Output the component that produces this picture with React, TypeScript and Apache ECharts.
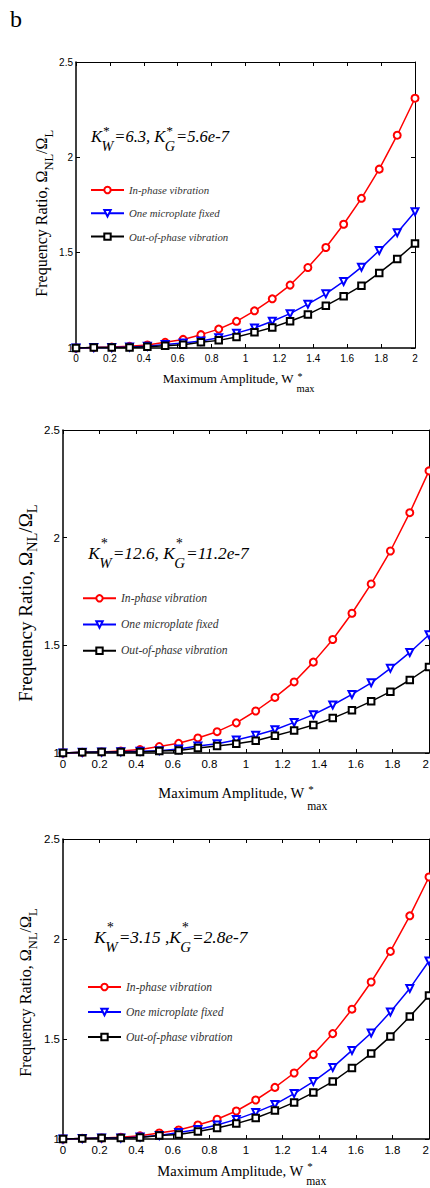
import React, { useEffect, useRef } from 'react';
import * as echarts from 'echarts';

// ---------------- data ----------------
const amplitude = [0, 0.105, 0.211, 0.316, 0.421, 0.526, 0.632, 0.737, 0.842, 0.947, 1.053, 1.158, 1.263, 1.368, 1.474, 1.579, 1.684, 1.789, 1.895, 2];

const seriesNames = ['In-phase vibration', 'One microplate fixed', 'Out-of-phase vibration'];

// in-phase vibration (identical in all three panels)
const inPhase = [1.0, 1.003, 1.005, 1.009, 1.016, 1.03, 1.045, 1.07, 1.099, 1.14, 1.195, 1.258, 1.33, 1.422, 1.527, 1.649, 1.785, 1.938, 2.116, 2.31];

// panel 1: Kw=6.3, Kg=5.6e-7
const fixed1 = [1.0, 1.002, 1.003, 1.005, 1.009, 1.019, 1.026, 1.037, 1.054, 1.078, 1.105, 1.14, 1.18, 1.23, 1.284, 1.349, 1.424, 1.511, 1.605, 1.715];
const outPhase1 = [1.0, 1.002, 1.002, 1.003, 1.007, 1.012, 1.017, 1.03, 1.04, 1.058, 1.082, 1.108, 1.14, 1.176, 1.222, 1.272, 1.326, 1.394, 1.467, 1.548];

// panel 2: Kw=12.6, Kg=11.2e-7
const fixed2 = [1.0, 1.003, 1.005, 1.006, 1.008, 1.011, 1.019, 1.032, 1.043, 1.06, 1.082, 1.108, 1.142, 1.178, 1.223, 1.272, 1.326, 1.393, 1.467, 1.549];
const outPhase2 = [1.0, 1.003, 1.005, 1.005, 1.005, 1.009, 1.012, 1.023, 1.032, 1.043, 1.057, 1.08, 1.104, 1.13, 1.162, 1.199, 1.24, 1.285, 1.339, 1.399];

// panel 3: Kw=3.15, Kg=2.8e-7
const fixed3 = [1.0, 1.003, 1.005, 1.005, 1.01, 1.018, 1.032, 1.047, 1.07, 1.098, 1.133, 1.173, 1.227, 1.287, 1.358, 1.443, 1.53, 1.635, 1.753, 1.89];
const outPhase3 = [1.0, 1.003, 1.005, 1.005, 1.008, 1.017, 1.023, 1.037, 1.055, 1.077, 1.105, 1.142, 1.183, 1.232, 1.287, 1.355, 1.427, 1.513, 1.612, 1.717];

const xTicks = { min: 0, max: 2, interval: 0.2 };
const yTicks = { min: 1, max: 2.5, interval: 0.5 };

const panelLabel = 'b';
const annotationTexts = [
  ['K', '=6.3, K', '=5.6e-7'],
  ['K', '=12.6, K', '=11.2e-7'],
  ['K', '=3.15 ,K', '=2.8e-7'],
];
const xTitleText = 'Maximum Amplitude, W';
const yTitleText = ['Frequency Ratio, Ω', '/Ω'];

const panelData = [
  [inPhase, fixed1, outPhase1],
  [inPhase, fixed2, outPhase2],
  [inPhase, fixed3, outPhase3],
];

// ---------------- styles / layout ----------------
const colors = ['#ff0000', '#0000ff', '#000000'];
const symbols = ['emptyCircle', 'emptyTriangle', 'emptyRect'];
const symbolRot = [0, 180, 0];
const symbolSizes = [7, 7, 6.5];

const panels = [
  {
    grid: { left: 76, top: 62, width: 339, height: 286 },
    tickFs: 10,
    alignMax: false,
    legend: { left: 90, top: 184, gap: 11.3, fs: 10.8 },
    annot: { x: 91, y: 141.7, fs: 16.5, supRise: 7.2, subDrop: 9.5 },
    xTitle: { x: 162.7, y: 383.3, fs: 13, subFs: 10.5, supFs: 10, supRise: 3.5, subDrop: 8.7 },
    yTitle: { x: 47, y: 296.7, fs: 16, subFs: 12.5, subDrop: 6 },
  },
  {
    grid: { left: 63, top: 430, width: 366, height: 323 },
    tickFs: 11.5,
    alignMax: true,
    legend: { left: 82, top: 592.3, gap: 14.2, fs: 11.6 },
    annot: { x: 88.3, y: 559.3, fs: 17.3, supRise: 11, subDrop: 9 },
    xTitle: { x: 158.3, y: 797.7, fs: 14.5, subFs: 11.6, supFs: 11, supRise: 5, subDrop: 12.3 },
    yTitle: { x: 31.7, y: 701.7, fs: 19, subFs: 14.5, subDrop: 5.5 },
  },
  {
    grid: { left: 63, top: 839, width: 366, height: 300 },
    tickFs: 11.5,
    alignMax: true,
    legend: { left: 87, top: 981, gap: 13, fs: 11.6 },
    annot: { x: 94.3, y: 943.3, fs: 17.3, supRise: 11.5, subDrop: 8.4 },
    xTitle: { x: 157.3, y: 1176, fs: 14.5, subFs: 11.6, supFs: 11, supRise: 6, subDrop: 9 },
    yTitle: { x: 31.7, y: 1076.7, fs: 16.2, subFs: 12.5, subDrop: 5.5 },
  },
];

const SERIF = '"Liberation Serif", "Times New Roman", serif';
const SANS = '"Liberation Sans", Arial, sans-serif';
const CENTRAL = 0.3375;

let measureCtx: CanvasRenderingContext2D | null = null;
function textWidth(s: string, fs: number, italic: boolean): number {
  if (!measureCtx) measureCtx = document.createElement('canvas').getContext('2d');
  if (!measureCtx) return s.length * fs * 0.5;
  measureCtx.font = `${italic ? 'italic ' : ''}${fs}px "Liberation Serif"`;
  return measureCtx.measureText(s).width;
}

function txt(s: string, x: number, baseline: number, fs: number, italic: boolean, fill = '#000') {
  return {
    type: 'text',
    x,
    y: baseline - CENTRAL * fs,
    style: {
      text: s,
      fontSize: fs,
      fontFamily: SERIF,
      fontStyle: italic ? 'italic' : 'normal',
      fill,
      align: 'left',
      verticalAlign: 'middle',
    },
  };
}

type Seg = { main?: string; sup?: string; sub?: string };
type MathOpt = {
  fs: number; supFs: number; subFs: number; supRise: number; subDrop: number;
  italic: boolean; supDx: number; subDx: number; after: number;
};
function mathRow(segs: Seg[], o: MathOpt) {
  const out: any[] = [];
  let cx = 0;
  for (const s of segs) {
    if (s.main) {
      out.push(txt(s.main, cx, 0, o.fs, o.italic));
      cx += textWidth(s.main, o.fs, o.italic);
    }
    if (s.sup || s.sub) {
      let w = 0;
      if (s.sup) {
        out.push(txt(s.sup, cx + o.supDx, -o.supRise, o.supFs, o.italic));
        w = Math.max(w, o.supDx + textWidth(s.sup, o.supFs, o.italic));
      }
      if (s.sub) {
        out.push(txt(s.sub, cx + o.subDx, o.subDrop, o.subFs, o.italic));
        w = Math.max(w, o.subDx + textWidth(s.sub, o.subFs, o.italic));
      }
      cx += w + o.after;
    }
  }
  return { children: out, width: cx };
}

function buildGraphics() {
  const g: any[] = [];
  g.push(txt(panelLabel, 10, 26.7, 24, false));
  panels.forEach((p, i) => {
    const a = p.annot;
    const at = annotationTexts[i];
    const ann = mathRow(
      [{ main: at[0], sup: '*', sub: 'W' }, { main: at[1], sup: '*', sub: 'G' }, { main: at[2] }],
      { fs: a.fs, supFs: a.fs * 0.8, subFs: a.fs * 0.86, supRise: a.supRise, subDrop: a.subDrop, italic: true, supDx: 0.5, subDx: -0.5, after: 1 }
    );
    g.push({ type: 'group', x: a.x, y: a.y, children: ann.children });

    const xt = p.xTitle;
    const xr = mathRow([{ main: xTitleText, sup: '*', sub: 'max' }], {
      fs: xt.fs, supFs: xt.supFs, subFs: xt.subFs, supRise: xt.supRise, subDrop: xt.subDrop,
      italic: false, supDx: 3, subDx: 2, after: 0,
    });
    g.push({ type: 'group', x: xt.x, y: xt.y, children: xr.children });

    const yt = p.yTitle;
    const yr = mathRow([{ main: yTitleText[0], sub: 'NL' }, { main: yTitleText[1], sub: 'L' }], {
      fs: yt.fs, supFs: yt.subFs, subFs: yt.subFs, supRise: 0, subDrop: yt.subDrop,
      italic: false, supDx: 0, subDx: 0, after: 0,
    });
    g.push({ type: 'group', x: yt.x, y: yt.y, rotation: Math.PI / 2, children: yr.children });
  });
  return g;
}

function buildOption() {
  const grid: any[] = [];
  const xAxis: any[] = [];
  const yAxis: any[] = [];
  const legend: any[] = [];
  const series: any[] = [];

  panels.forEach((p, i) => {
    grid.push({ ...p.grid, containLabel: false, outerBoundsMode: 'none' });
    const tick = { inside: true, length: 4, lineStyle: { color: '#000', width: 1 } };
    const label = {
      color: '#000', fontFamily: SANS, fontSize: p.tickFs, showMinLabel: true, showMaxLabel: true,
    };
    xAxis.push({
      type: 'value', gridIndex: i, ...xTicks, position: 'bottom',
      axisLine: { onZero: false, lineStyle: { color: '#000', width: 1.5 } },
      axisTick: tick,
      axisLabel: { ...label, margin: 5, ...(p.alignMax ? { alignMaxLabel: 'right' } : {}) },
      splitLine: { show: false },
    });
    xAxis.push({
      type: 'value', gridIndex: i, ...xTicks, position: 'top',
      axisLine: { onZero: false, lineStyle: { color: '#000', width: 1 } },
      axisTick: tick, axisLabel: { show: false }, splitLine: { show: false },
    });
    yAxis.push({
      type: 'value', gridIndex: i, ...yTicks, position: 'left',
      axisLine: { onZero: false, lineStyle: { color: '#000', width: 1.5 } },
      axisTick: tick, axisLabel: { ...label, margin: 3 }, splitLine: { show: false },
    });
    yAxis.push({
      type: 'value', gridIndex: i, ...yTicks, position: 'right',
      axisLine: { onZero: false, lineStyle: { color: '#000', width: 1 } },
      axisTick: tick, axisLabel: { show: false }, splitLine: { show: false },
    });

    legend.push({
      left: p.legend.left, top: p.legend.top, orient: 'vertical', padding: 0,
      itemWidth: 33, itemHeight: 8, itemGap: p.legend.gap,
      selectedMode: false,
      textStyle: { fontFamily: SERIF, fontStyle: 'italic', fontSize: p.legend.fs, color: '#333', lineHeight: 12 },
      data: seriesNames,
    });

    panelData[i].forEach((vals, k) => {
      series.push({
        type: 'line', name: seriesNames[k], xAxisIndex: 2 * i, yAxisIndex: 2 * i,
        data: amplitude.map((x, j) => [x, vals[j]]),
        symbol: symbols[k], symbolRotate: symbolRot[k], symbolSize: symbolSizes[k],
        lineStyle: { color: colors[k], width: 1.5 },
        itemStyle: { color: colors[k], borderWidth: 1.2 },
        clip: false, z: 2 + k, silent: true,
      });
    });
  });

  return {
    animation: false,
    backgroundColor: '#fff',
    grid, xAxis, yAxis, legend, series,
    graphic: buildGraphics(),
  };
}

export default function App() {
  const ref = useRef<HTMLDivElement>(null);
  useEffect(() => {
    if (!ref.current) return;
    const chart = echarts.init(ref.current, undefined, { renderer: 'svg' });
    chart.setOption(buildOption() as any);
    return () => chart.dispose();
  }, []);
  return (
    <div
      ref={ref}
      style={{ position: 'absolute', left: 0, top: 0, width: 430, height: 1188, background: '#fff' }}
    />
  );
}
